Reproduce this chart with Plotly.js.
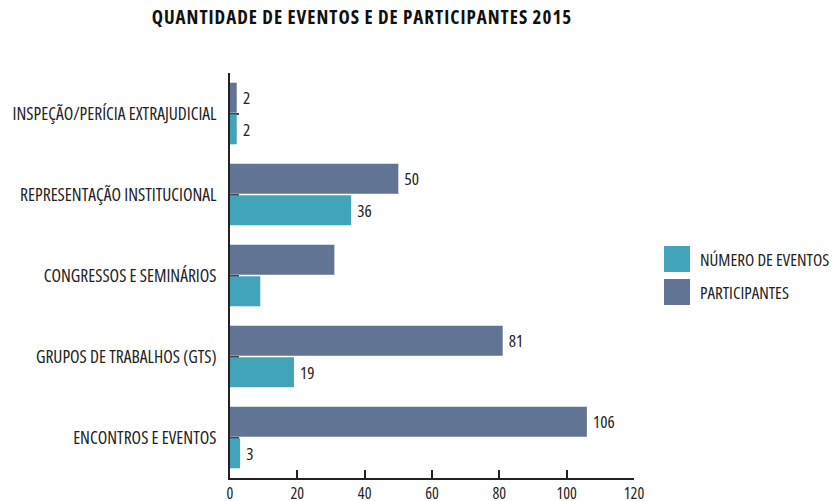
<!DOCTYPE html>
<html>
<head>
<meta charset="utf-8">
<script src="https://cdn.plot.ly/plotly-3.0.1.min.js"></script>
<style>
  html, body { margin: 0; padding: 0; background: #fff; }
  #chart { width: 835px; height: 501px; }
  /* Open Sans comes with condensed widths: squeeze it to look like the condensed original */
  svg text { font-stretch: 75%; }
  svg text.gtitle { letter-spacing: 1px; }
</style>
</head>
<body>
<div id="chart"></div>
<script>
/* categories listed bottom to top */
var categorias = [
	'ENCONTROS E EVENTOS',
	'GRUPOS DE TRABALHOS (GTS)',
	'CONGRESSOS E SEMINÁRIOS',
	'REPRESENTAÇÃO INSTITUCIONAL',
	'INSPEÇÃO/PERÍCIA EXTRAJUDICIAL'
];
var numeroEventos = [3, 19, 9, 36, 2];
var participantes = [106, 81, 31, 50, 2];
/* the congressos row has no value labels in the original */
var mostrarRotulo = [true, true, false, true, true];

var fonte = '"Open Sans", sans-serif';
var corTexto = '#222222';

function rotulos(valores) {
	return valores.map(function (v, i) {
		return mostrarRotulo[i] ? '\u00a0' + v : '';
	});
}

var data = [{
	name: 'NÚMERO DE EVENTOS',
	legendgroup: 'eventos',
	type: 'bar',
	orientation: 'h',
	y: categorias,
	x: numeroEventos,
	text: rotulos(numeroEventos),
	textposition: 'outside',
	cliponaxis: false,
	textfont: { family: fonte, size: 17, color: corTexto },
	marker: { color: '#41a4b9' },
	hoverinfo: 'x+name'
}, {
	name: 'PARTICIPANTES',
	legendgroup: 'participantes',
	type: 'bar',
	orientation: 'h',
	y: categorias,
	x: participantes,
	text: rotulos(participantes),
	textposition: 'outside',
	cliponaxis: false,
	textfont: { family: fonte, size: 17, color: corTexto },
	marker: { color: '#627493' },
	hoverinfo: 'x+name'
}];

var layout = {
	width: 835,
	height: 501,
	margin: { l: 230, r: 201, t: 73, b: 23 },
	paper_bgcolor: '#ffffff',
	plot_bgcolor: '#ffffff',
	font: { family: fonte, size: 17, color: corTexto },
	title: {
		text: '<b>QUANTIDADE DE EVENTOS E DE PARTICIPANTES 2015</b>',
		font: { family: fonte, size: 19, color: '#111111' },
		xref: 'container',
		x: 0.4335,
		xanchor: 'center',
		y: 0.965,
		yanchor: 'middle'
	},
	barmode: 'group',
	bargap: 0.22,
	bargroupgap: 0.05,
	showlegend: true,
	legend: {
		xref: 'container',
		x: 1.005,
		xanchor: 'right',
		y: 0.499,
		yanchor: 'middle',
		traceorder: 'grouped',
		tracegroupgap: 8,
		font: { family: fonte, size: 17, color: corTexto },
		itemclick: false
	},
	xaxis: {
		range: [0, 120],
		dtick: 20,
		showgrid: false,
		zeroline: false,
		showline: true,
		linecolor: '#222222',
		linewidth: 2,
		ticks: 'inside',
		ticklen: 8,
		tickwidth: 2,
		tickcolor: '#222222',
		tickfont: { family: fonte, size: 16, color: corTexto },
		layer: 'below traces',
		fixedrange: true
	},
	yaxis: {
		range: [-0.5, 4.5],
		showgrid: false,
		zeroline: false,
		showline: true,
		linecolor: '#222222',
		linewidth: 2,
		ticks: 'inside',
		ticklen: 9,
		tickwidth: 2,
		tickcolor: '#444444',
		ticklabelstandoff: 8,
		tickfont: { family: fonte, size: 17.5, color: corTexto },
		layer: 'below traces',
		fixedrange: true
	}
};

Plotly.newPlot('chart', data, layout, { displayModeBar: false }).then(function (gd) {
	/* bigger square legend swatches, like the original (path sits at x=20 by default) */
	gd.querySelectorAll('.legend .legendpoints path').forEach(function (p) {
		p.setAttribute('transform', 'translate(17,0) scale(2.17)');
	});
});
</script>
</body>
</html>
